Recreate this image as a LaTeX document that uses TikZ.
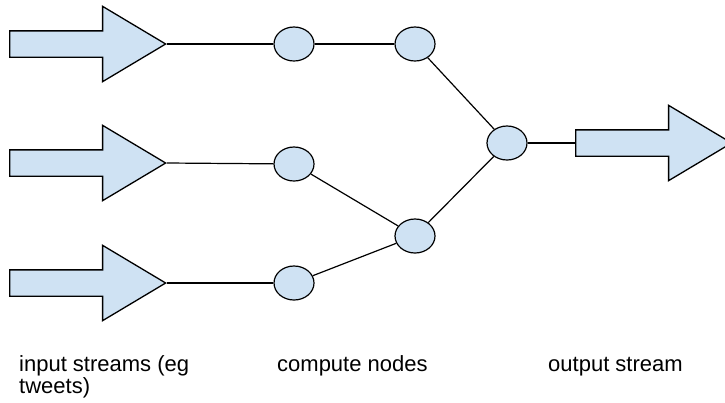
\documentclass[tikz,border=0pt]{standalone}
\usepackage{fontspec}
\setmainfont{Liberation Sans}
\usetikzlibrary{shapes.geometric,shapes.arrows}
\definecolor{nodeblue}{HTML}{CFE2F3}
\begin{document}
\begin{tikzpicture}[
      x=1pt, y=-1pt,
      font=\fontsize{22}{22}\selectfont,
      stream/.style={draw, single arrow, fill=nodeblue, line width=1.3pt,
                  inner xsep=0pt, inner ysep=12.5pt, minimum height=156pt,
                  single arrow head extend=24.5pt, single arrow tip angle=61.7,
                  single arrow head indent=0pt, anchor=tail},
      cnode/.style={draw, ellipse, fill=nodeblue, line width=1.2pt,
                  minimum width=40pt, minimum height=34pt, inner sep=0pt},
      link/.style={line width=1.2pt},
      lbl/.style={anchor=base west, align=left, inner sep=0pt}
    ]
    \useasboundingbox (0,0) rectangle (725,402);
    \node[stream] (in1) at (9,44)  {};
    \node[stream] (in2) at (9,163) {};
    \node[stream] (in3) at (9,283) {};
    \node[cnode] (a1) at (294,44)  {};
    \node[cnode] (a2) at (294,164) {};
    \node[cnode] (a3) at (294,283) {};
    \node[cnode] (b1) at (415,44)  {};
    \node[cnode] (b2) at (415,236) {};
    \node[cnode] (c)  at (507,143) {};
    \node[stream] (out) at (575,143) {};

    \draw[link] (in1.tip) -- (a1);
    \draw[link] (in2.tip) -- (a2);
    \draw[link] (in3.tip) -- (a3);
    \draw[link] (a1) -- (b1);
    \draw[link] (a2) -- (b2);
    \draw[link] (a3) -- (b2);
    \draw[link] (b1) -- (c);
    \draw[link] (b2) -- (c);
    \draw[link] (c) -- (out.tail);

    \node[lbl] (inlbl)  at (19,393)  {input streams (eg\\tweets)};
    \node[lbl] (cmplbl) at (277,371) {compute nodes};
    \node[lbl] (outlbl) at (548,371) {output stream};
  \end{tikzpicture}
\end{document}
